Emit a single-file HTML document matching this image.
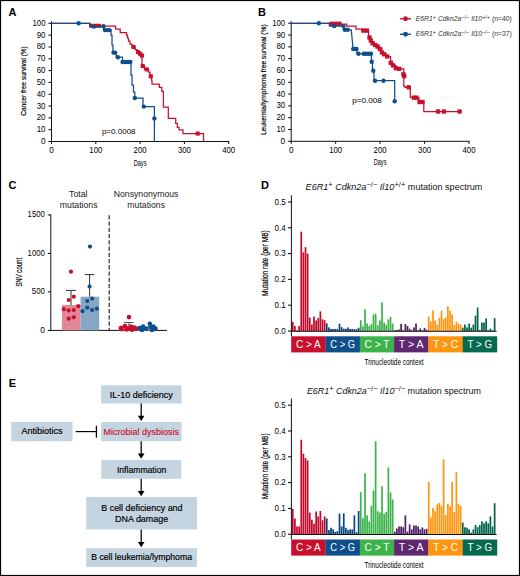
<!DOCTYPE html><html><head><meta charset="utf-8"><style>html,body{margin:0;padding:0;background:#fff;}body{width:520px;height:576px;overflow:hidden;}</style></head><body><svg width="520" height="576" viewBox="0 0 520 576" style="display:block;font-family:'Liberation Sans', sans-serif">
<rect x="0" y="0" width="520" height="576" fill="#fff"/>
<text x="8.4" y="15.5" font-size="11" text-anchor="start" fill="#000" font-weight="bold" font-style="normal" >A</text>
<text x="258.0" y="16.0" font-size="11" text-anchor="start" fill="#000" font-weight="bold" font-style="normal" >B</text>
<text x="8.5" y="188.9" font-size="11" text-anchor="start" fill="#000" font-weight="bold" font-style="normal" >C</text>
<text x="260.9" y="189.0" font-size="11" text-anchor="start" fill="#000" font-weight="bold" font-style="normal" >D</text>
<text x="8.8" y="387.0" font-size="11" text-anchor="start" fill="#000" font-weight="bold" font-style="normal" >E</text>
<line x1="51.5" y1="21.3" x2="51.5" y2="142.0" stroke="#111" stroke-width="1"/>
<line x1="51.0" y1="141.5" x2="229.2" y2="141.5" stroke="#111" stroke-width="1"/>
<line x1="48.5" y1="141.50" x2="51.5" y2="141.50" stroke="#000" stroke-width="1"/>
<text x="45.50" y="144.05" font-size="8.4" text-anchor="end" fill="#000" font-weight="normal" font-style="normal" textLength="4.6" lengthAdjust="spacingAndGlyphs" >0</text>
<line x1="48.5" y1="129.68" x2="51.5" y2="129.68" stroke="#000" stroke-width="1"/>
<text x="45.50" y="132.23" font-size="8.4" text-anchor="end" fill="#000" font-weight="normal" font-style="normal" textLength="8.8" lengthAdjust="spacingAndGlyphs" >10</text>
<line x1="48.5" y1="117.86" x2="51.5" y2="117.86" stroke="#000" stroke-width="1"/>
<text x="45.50" y="120.41" font-size="8.4" text-anchor="end" fill="#000" font-weight="normal" font-style="normal" textLength="8.8" lengthAdjust="spacingAndGlyphs" >20</text>
<line x1="48.5" y1="106.04" x2="51.5" y2="106.04" stroke="#000" stroke-width="1"/>
<text x="45.50" y="108.59" font-size="8.4" text-anchor="end" fill="#000" font-weight="normal" font-style="normal" textLength="8.8" lengthAdjust="spacingAndGlyphs" >30</text>
<line x1="48.5" y1="94.22" x2="51.5" y2="94.22" stroke="#000" stroke-width="1"/>
<text x="45.50" y="96.77" font-size="8.4" text-anchor="end" fill="#000" font-weight="normal" font-style="normal" textLength="8.8" lengthAdjust="spacingAndGlyphs" >40</text>
<line x1="48.5" y1="82.40" x2="51.5" y2="82.40" stroke="#000" stroke-width="1"/>
<text x="45.50" y="84.95" font-size="8.4" text-anchor="end" fill="#000" font-weight="normal" font-style="normal" textLength="8.8" lengthAdjust="spacingAndGlyphs" >50</text>
<line x1="48.5" y1="70.58" x2="51.5" y2="70.58" stroke="#000" stroke-width="1"/>
<text x="45.50" y="73.13" font-size="8.4" text-anchor="end" fill="#000" font-weight="normal" font-style="normal" textLength="8.8" lengthAdjust="spacingAndGlyphs" >60</text>
<line x1="48.5" y1="58.76" x2="51.5" y2="58.76" stroke="#000" stroke-width="1"/>
<text x="45.50" y="61.31" font-size="8.4" text-anchor="end" fill="#000" font-weight="normal" font-style="normal" textLength="8.8" lengthAdjust="spacingAndGlyphs" >70</text>
<line x1="48.5" y1="46.94" x2="51.5" y2="46.94" stroke="#000" stroke-width="1"/>
<text x="45.50" y="49.49" font-size="8.4" text-anchor="end" fill="#000" font-weight="normal" font-style="normal" textLength="8.8" lengthAdjust="spacingAndGlyphs" >80</text>
<line x1="48.5" y1="35.12" x2="51.5" y2="35.12" stroke="#000" stroke-width="1"/>
<text x="45.50" y="37.67" font-size="8.4" text-anchor="end" fill="#000" font-weight="normal" font-style="normal" textLength="8.8" lengthAdjust="spacingAndGlyphs" >90</text>
<line x1="48.5" y1="23.30" x2="51.5" y2="23.30" stroke="#000" stroke-width="1"/>
<text x="45.50" y="25.85" font-size="8.4" text-anchor="end" fill="#000" font-weight="normal" font-style="normal" textLength="13.0" lengthAdjust="spacingAndGlyphs" >100</text>
<line x1="51.50" y1="141.5" x2="51.50" y2="144.0" stroke="#000" stroke-width="1"/>
<text x="51.50" y="153.30" font-size="8.4" text-anchor="middle" fill="#000" font-weight="normal" font-style="normal" textLength="4.6" lengthAdjust="spacingAndGlyphs" >0</text>
<line x1="95.80" y1="141.5" x2="95.80" y2="144.0" stroke="#000" stroke-width="1"/>
<text x="95.80" y="153.30" font-size="8.4" text-anchor="middle" fill="#000" font-weight="normal" font-style="normal" textLength="13.0" lengthAdjust="spacingAndGlyphs" >100</text>
<line x1="140.10" y1="141.5" x2="140.10" y2="144.0" stroke="#000" stroke-width="1"/>
<text x="140.10" y="153.30" font-size="8.4" text-anchor="middle" fill="#000" font-weight="normal" font-style="normal" textLength="13.0" lengthAdjust="spacingAndGlyphs" >200</text>
<line x1="184.40" y1="141.5" x2="184.40" y2="144.0" stroke="#000" stroke-width="1"/>
<text x="184.40" y="153.30" font-size="8.4" text-anchor="middle" fill="#000" font-weight="normal" font-style="normal" textLength="13.0" lengthAdjust="spacingAndGlyphs" >300</text>
<line x1="228.70" y1="141.5" x2="228.70" y2="144.0" stroke="#000" stroke-width="1"/>
<text x="228.70" y="153.30" font-size="8.4" text-anchor="middle" fill="#000" font-weight="normal" font-style="normal" textLength="13.0" lengthAdjust="spacingAndGlyphs" >400</text>
<text x="140.10" y="165.50" font-size="8.2" text-anchor="middle" fill="#000" font-weight="normal" font-style="normal" textLength="12.8" lengthAdjust="spacingAndGlyphs" >Days</text>
<g transform="translate(26.4,81) rotate(-90)"><text x="0" y="0" font-size="7.6" text-anchor="middle" fill="#000" stroke="#000" stroke-width="0.18" textLength="69.5" lengthAdjust="spacingAndGlyphs">Cancer free survival (%)</text></g>
<line x1="291.2" y1="21.2" x2="291.2" y2="141.8" stroke="#111" stroke-width="1"/>
<line x1="290.7" y1="141.3" x2="469.5" y2="141.3" stroke="#111" stroke-width="1"/>
<line x1="288.2" y1="141.30" x2="291.2" y2="141.30" stroke="#000" stroke-width="1"/>
<text x="285.20" y="143.85" font-size="8.4" text-anchor="end" fill="#000" font-weight="normal" font-style="normal" textLength="4.6" lengthAdjust="spacingAndGlyphs" >0</text>
<line x1="288.2" y1="129.49" x2="291.2" y2="129.49" stroke="#000" stroke-width="1"/>
<text x="285.20" y="132.04" font-size="8.4" text-anchor="end" fill="#000" font-weight="normal" font-style="normal" textLength="8.8" lengthAdjust="spacingAndGlyphs" >10</text>
<line x1="288.2" y1="117.68" x2="291.2" y2="117.68" stroke="#000" stroke-width="1"/>
<text x="285.20" y="120.23" font-size="8.4" text-anchor="end" fill="#000" font-weight="normal" font-style="normal" textLength="8.8" lengthAdjust="spacingAndGlyphs" >20</text>
<line x1="288.2" y1="105.87" x2="291.2" y2="105.87" stroke="#000" stroke-width="1"/>
<text x="285.20" y="108.42" font-size="8.4" text-anchor="end" fill="#000" font-weight="normal" font-style="normal" textLength="8.8" lengthAdjust="spacingAndGlyphs" >30</text>
<line x1="288.2" y1="94.06" x2="291.2" y2="94.06" stroke="#000" stroke-width="1"/>
<text x="285.20" y="96.61" font-size="8.4" text-anchor="end" fill="#000" font-weight="normal" font-style="normal" textLength="8.8" lengthAdjust="spacingAndGlyphs" >40</text>
<line x1="288.2" y1="82.25" x2="291.2" y2="82.25" stroke="#000" stroke-width="1"/>
<text x="285.20" y="84.80" font-size="8.4" text-anchor="end" fill="#000" font-weight="normal" font-style="normal" textLength="8.8" lengthAdjust="spacingAndGlyphs" >50</text>
<line x1="288.2" y1="70.44" x2="291.2" y2="70.44" stroke="#000" stroke-width="1"/>
<text x="285.20" y="72.99" font-size="8.4" text-anchor="end" fill="#000" font-weight="normal" font-style="normal" textLength="8.8" lengthAdjust="spacingAndGlyphs" >60</text>
<line x1="288.2" y1="58.63" x2="291.2" y2="58.63" stroke="#000" stroke-width="1"/>
<text x="285.20" y="61.18" font-size="8.4" text-anchor="end" fill="#000" font-weight="normal" font-style="normal" textLength="8.8" lengthAdjust="spacingAndGlyphs" >70</text>
<line x1="288.2" y1="46.82" x2="291.2" y2="46.82" stroke="#000" stroke-width="1"/>
<text x="285.20" y="49.37" font-size="8.4" text-anchor="end" fill="#000" font-weight="normal" font-style="normal" textLength="8.8" lengthAdjust="spacingAndGlyphs" >80</text>
<line x1="288.2" y1="35.01" x2="291.2" y2="35.01" stroke="#000" stroke-width="1"/>
<text x="285.20" y="37.56" font-size="8.4" text-anchor="end" fill="#000" font-weight="normal" font-style="normal" textLength="8.8" lengthAdjust="spacingAndGlyphs" >90</text>
<line x1="288.2" y1="23.20" x2="291.2" y2="23.20" stroke="#000" stroke-width="1"/>
<text x="285.20" y="25.75" font-size="8.4" text-anchor="end" fill="#000" font-weight="normal" font-style="normal" textLength="13.0" lengthAdjust="spacingAndGlyphs" >100</text>
<line x1="291.20" y1="141.3" x2="291.20" y2="143.8" stroke="#000" stroke-width="1"/>
<text x="291.20" y="153.10" font-size="8.4" text-anchor="middle" fill="#000" font-weight="normal" font-style="normal" textLength="4.6" lengthAdjust="spacingAndGlyphs" >0</text>
<line x1="335.65" y1="141.3" x2="335.65" y2="143.8" stroke="#000" stroke-width="1"/>
<text x="335.65" y="153.10" font-size="8.4" text-anchor="middle" fill="#000" font-weight="normal" font-style="normal" textLength="13.0" lengthAdjust="spacingAndGlyphs" >100</text>
<line x1="380.10" y1="141.3" x2="380.10" y2="143.8" stroke="#000" stroke-width="1"/>
<text x="380.10" y="153.10" font-size="8.4" text-anchor="middle" fill="#000" font-weight="normal" font-style="normal" textLength="13.0" lengthAdjust="spacingAndGlyphs" >200</text>
<line x1="424.55" y1="141.3" x2="424.55" y2="143.8" stroke="#000" stroke-width="1"/>
<text x="424.55" y="153.10" font-size="8.4" text-anchor="middle" fill="#000" font-weight="normal" font-style="normal" textLength="13.0" lengthAdjust="spacingAndGlyphs" >300</text>
<line x1="469.00" y1="141.3" x2="469.00" y2="143.8" stroke="#000" stroke-width="1"/>
<text x="469.00" y="153.10" font-size="8.4" text-anchor="middle" fill="#000" font-weight="normal" font-style="normal" textLength="13.0" lengthAdjust="spacingAndGlyphs" >400</text>
<text x="380.10" y="165.30" font-size="8.2" text-anchor="middle" fill="#000" font-weight="normal" font-style="normal" textLength="12.8" lengthAdjust="spacingAndGlyphs" >Days</text>
<g transform="translate(266.0,79.7) rotate(-90)"><text x="0" y="0" font-size="7.6" text-anchor="middle" fill="#000" stroke="#000" stroke-width="0.18" textLength="110.6" lengthAdjust="spacingAndGlyphs">Leukemia/lymphoma free survival (%)</text></g>
<path d="M 51.5 23.3 H 89.8 V 26 H 115.6 V 29 H 120.2 V 32.5 H 126.5 V 35 H 127.5 V 38 H 128.5 V 41 H 130 V 44 H 132 V 46.9 H 135 V 49.5 H 137 V 52.1 H 140 V 55.6 H 142 V 66 H 144.5 V 69.4 H 148.5 V 72 H 150 V 76.3 H 151.5 V 80 H 152 V 84 H 159.3 V 87.4 H 161.8 V 91.4 H 163.4 V 107 H 168.3 V 118.4 H 175.7 V 123.3 H 177.3 V 127.4 H 179 V 129.9 H 183 V 133.6 H 203.5 V 141.5" fill="none" stroke="#c8102e" stroke-width="1.25" stroke-linejoin="miter"/>
<rect x="89.45" y="23.75" width="4.1" height="4.1" fill="#c8102e"/>
<rect x="93.45" y="23.75" width="4.1" height="4.1" fill="#c8102e"/>
<rect x="96.95" y="23.75" width="4.1" height="4.1" fill="#c8102e"/>
<rect x="131.45" y="44.85" width="4.1" height="4.1" fill="#c8102e"/>
<rect x="135.95" y="50.05" width="4.1" height="4.1" fill="#c8102e"/>
<rect x="138.15" y="51.75" width="4.1" height="4.1" fill="#c8102e"/>
<rect x="139.95" y="53.55" width="4.1" height="4.1" fill="#c8102e"/>
<rect x="140.65" y="63.95" width="4.1" height="4.1" fill="#c8102e"/>
<rect x="144.65" y="67.35" width="4.1" height="4.1" fill="#c8102e"/>
<rect x="148.75" y="74.25" width="4.1" height="4.1" fill="#c8102e"/>
<rect x="195.65" y="131.55" width="4.1" height="4.1" fill="#c8102e"/>
<path d="M 51.5 23.3 H 89.8 V 26.6 H 103.5 V 30.1 H 111 V 35 H 112 V 45 H 113 V 52.6 H 116.2 V 57.2 H 122.5 V 62 H 131 V 75 H 132 V 85 H 133.5 V 92 H 134.8 V 98 H 143 V 106.6 H 154.4 V 141.5" fill="none" stroke="#0f4f8c" stroke-width="1.25" stroke-linejoin="miter"/>
<circle cx="78.65" cy="23.3" r="2.2" fill="#0f4f8c"/>
<circle cx="94" cy="26.6" r="2.2" fill="#0f4f8c"/>
<circle cx="103.5" cy="26.3" r="2.2" fill="#0f4f8c"/>
<circle cx="105" cy="30.1" r="2.2" fill="#0f4f8c"/>
<circle cx="107.5" cy="30.1" r="2.2" fill="#0f4f8c"/>
<circle cx="109.5" cy="30.1" r="2.2" fill="#0f4f8c"/>
<circle cx="113.5" cy="52.6" r="2.2" fill="#0f4f8c"/>
<circle cx="115.2" cy="52.6" r="2.2" fill="#0f4f8c"/>
<circle cx="117.9" cy="57.2" r="2.2" fill="#0f4f8c"/>
<circle cx="122.5" cy="62" r="2.2" fill="#0f4f8c"/>
<circle cx="124.5" cy="62" r="2.2" fill="#0f4f8c"/>
<circle cx="126.5" cy="62" r="2.2" fill="#0f4f8c"/>
<circle cx="128.5" cy="62" r="2.2" fill="#0f4f8c"/>
<circle cx="130.3" cy="62" r="2.2" fill="#0f4f8c"/>
<circle cx="134.8" cy="98" r="2.2" fill="#0f4f8c"/>
<circle cx="143.8" cy="106.6" r="2.2" fill="#0f4f8c"/>
<circle cx="154.4" cy="118.4" r="2.2" fill="#0f4f8c"/>
<text x="101.9" y="134.2" font-size="7.4" text-anchor="start" fill="#000" font-weight="normal" font-style="normal" textLength="33.7" lengthAdjust="spacingAndGlyphs" >p=0.0008</text>
<path d="M 291.2 23.25 H 329.4 V 23.8 H 341 V 24.2 H 346.7 V 26.1 H 356 V 29.2 H 362 V 30.6 H 368.6 V 36.5 H 369.8 V 38.3 H 371 V 41.7 H 373.3 V 44 H 376.7 V 45.8 H 379 V 48.1 H 381.9 V 52.7 H 383.1 V 54.4 H 386.5 V 56.7 H 390.6 V 63.1 H 392.9 V 65.4 H 395.8 V 68.3 H 399.2 V 68.8 H 403.8 V 86.4 H 405 V 87.3 H 410.3 V 96.8 H 411 V 97.7 H 419 V 102 H 423.8 V 111.5 H 461.3" fill="none" stroke="#c8102e" stroke-width="1.25" stroke-linejoin="miter"/>
<rect x="329.35" y="21.65" width="4.3" height="4.3" fill="#c8102e"/>
<rect x="333.35" y="21.65" width="4.3" height="4.3" fill="#c8102e"/>
<rect x="337.35" y="21.65" width="4.3" height="4.3" fill="#c8102e"/>
<rect x="361.25" y="28.45" width="4.3" height="4.3" fill="#c8102e"/>
<rect x="364.65" y="28.45" width="4.3" height="4.3" fill="#c8102e"/>
<rect x="367.35" y="35.35" width="4.3" height="4.3" fill="#c8102e"/>
<rect x="368.65" y="38.35" width="4.3" height="4.3" fill="#c8102e"/>
<rect x="370.45" y="41.15" width="4.3" height="4.3" fill="#c8102e"/>
<rect x="373.05" y="42.85" width="4.3" height="4.3" fill="#c8102e"/>
<rect x="375.35" y="44.45" width="4.3" height="4.3" fill="#c8102e"/>
<rect x="377.65" y="46.85" width="4.3" height="4.3" fill="#c8102e"/>
<rect x="379.85" y="50.35" width="4.3" height="4.3" fill="#c8102e"/>
<rect x="382.05" y="52.15" width="4.3" height="4.3" fill="#c8102e"/>
<rect x="385.05" y="54.35" width="4.3" height="4.3" fill="#c8102e"/>
<rect x="388.65" y="60.65" width="4.3" height="4.3" fill="#c8102e"/>
<rect x="390.85" y="63.25" width="4.3" height="4.3" fill="#c8102e"/>
<rect x="393.65" y="66.05" width="4.3" height="4.3" fill="#c8102e"/>
<rect x="397.05" y="66.65" width="4.3" height="4.3" fill="#c8102e"/>
<rect x="401.25" y="72.15" width="4.3" height="4.3" fill="#c8102e"/>
<rect x="402.05" y="74.05" width="4.3" height="4.3" fill="#c8102e"/>
<rect x="406.45" y="85.15" width="4.3" height="4.3" fill="#c8102e"/>
<rect x="411.85" y="95.55" width="4.3" height="4.3" fill="#c8102e"/>
<rect x="414.15" y="95.55" width="4.3" height="4.3" fill="#c8102e"/>
<rect x="417.35" y="99.85" width="4.3" height="4.3" fill="#c8102e"/>
<rect x="420.35" y="99.85" width="4.3" height="4.3" fill="#c8102e"/>
<rect x="435.85" y="109.35" width="4.3" height="4.3" fill="#c8102e"/>
<rect x="441.85" y="109.35" width="4.3" height="4.3" fill="#c8102e"/>
<rect x="457.45" y="109.35" width="4.3" height="4.3" fill="#c8102e"/>
<path d="M 291.2 23.25 H 329.4 V 26.1 H 343.4 V 29.8 H 351.25 L 353 48 V 49 H 357 V 53.8 H 371.4 V 61.7 H 372.5 V 70.8 H 374 V 80.7 H 394.7 V 101.2" fill="none" stroke="#0f4f8c" stroke-width="1.25" stroke-linejoin="miter"/>
<circle cx="318.8" cy="23.25" r="2.2" fill="#0f4f8c"/>
<circle cx="334.2" cy="26.1" r="2.2" fill="#0f4f8c"/>
<circle cx="343.4" cy="26.1" r="2.2" fill="#0f4f8c"/>
<circle cx="344.8" cy="29.8" r="2.2" fill="#0f4f8c"/>
<circle cx="347.7" cy="29.8" r="2.2" fill="#0f4f8c"/>
<circle cx="353.2" cy="49" r="2.2" fill="#0f4f8c"/>
<circle cx="355" cy="49" r="2.2" fill="#0f4f8c"/>
<circle cx="356.5" cy="49" r="2.2" fill="#0f4f8c"/>
<circle cx="358.5" cy="53.8" r="2.2" fill="#0f4f8c"/>
<circle cx="363.75" cy="53.8" r="2.2" fill="#0f4f8c"/>
<circle cx="366" cy="53.8" r="2.2" fill="#0f4f8c"/>
<circle cx="368.5" cy="53.8" r="2.2" fill="#0f4f8c"/>
<circle cx="371" cy="53.8" r="2.2" fill="#0f4f8c"/>
<circle cx="371.7" cy="61.7" r="2.2" fill="#0f4f8c"/>
<circle cx="373.3" cy="70.8" r="2.2" fill="#0f4f8c"/>
<circle cx="375" cy="80.7" r="2.2" fill="#0f4f8c"/>
<circle cx="383.5" cy="80.7" r="2.2" fill="#0f4f8c"/>
<circle cx="394.7" cy="101.2" r="2.2" fill="#0f4f8c"/>
<text x="352.2" y="102.6" font-size="7.4" text-anchor="start" fill="#000" font-weight="normal" font-style="normal" textLength="29.6" lengthAdjust="spacingAndGlyphs" >p=0.008</text>
<line x1="400" y1="18.75" x2="411" y2="18.75" stroke="#c8102e" stroke-width="1.4"/>
<circle cx="405.5" cy="18.75" r="2.4" fill="#c8102e"/>
<text x="415.8" y="20.95" font-size="7.4" fill="#333" textLength="96" lengthAdjust="spacingAndGlyphs"><tspan font-style="italic">E6R1</tspan><tspan font-size="6" dy="-2.4">+</tspan><tspan dy="2.4"> </tspan><tspan font-style="italic">Cdkn2a</tspan><tspan font-size="6" dy="-2.4">&#8722;/&#8722;</tspan><tspan dy="2.4"> </tspan><tspan font-style="italic">Il10</tspan><tspan font-size="6" dy="-2.4">+/+</tspan><tspan dy="2.4"> (n=40)</tspan></text>
<line x1="400" y1="34.25" x2="411" y2="34.25" stroke="#0f4f8c" stroke-width="1.4"/>
<circle cx="405.5" cy="34.25" r="2.4" fill="#0f4f8c"/>
<text x="415.8" y="36.45" font-size="7.4" fill="#333" textLength="96" lengthAdjust="spacingAndGlyphs"><tspan font-style="italic">E6R1</tspan><tspan font-size="6" dy="-2.4">+</tspan><tspan dy="2.4"> </tspan><tspan font-style="italic">Cdkn2a</tspan><tspan font-size="6" dy="-2.4">&#8722;/&#8722;</tspan><tspan dy="2.4"> </tspan><tspan font-style="italic">Il10</tspan><tspan font-size="6" dy="-2.4">&#8722;/&#8722;</tspan><tspan dy="2.4"> (n=37)</tspan></text>
<line x1="50.8" y1="214.6" x2="50.8" y2="330.9" stroke="#111" stroke-width="1"/>
<line x1="50.3" y1="330.4" x2="167" y2="330.4" stroke="#111" stroke-width="1"/>
<line x1="47.8" y1="330.40" x2="50.8" y2="330.40" stroke="#000" stroke-width="1"/>
<text x="44.80" y="332.95" font-size="8.4" text-anchor="end" fill="#000" font-weight="normal" font-style="normal" textLength="4.6" lengthAdjust="spacingAndGlyphs" >0</text>
<line x1="47.8" y1="291.90" x2="50.8" y2="291.90" stroke="#000" stroke-width="1"/>
<text x="44.80" y="294.45" font-size="8.4" text-anchor="end" fill="#000" font-weight="normal" font-style="normal" textLength="13.0" lengthAdjust="spacingAndGlyphs" >500</text>
<line x1="47.8" y1="253.40" x2="50.8" y2="253.40" stroke="#000" stroke-width="1"/>
<text x="44.80" y="255.95" font-size="8.4" text-anchor="end" fill="#000" font-weight="normal" font-style="normal" textLength="17.2" lengthAdjust="spacingAndGlyphs" >1000</text>
<line x1="47.8" y1="214.90" x2="50.8" y2="214.90" stroke="#000" stroke-width="1"/>
<text x="44.80" y="217.45" font-size="8.4" text-anchor="end" fill="#000" font-weight="normal" font-style="normal" textLength="17.2" lengthAdjust="spacingAndGlyphs" >1500</text>
<g transform="translate(21.6,272.3) rotate(-90)"><text x="0" y="0" font-size="9.0" text-anchor="middle" fill="#000" stroke="#000" stroke-width="0.18" textLength="28.9" lengthAdjust="spacingAndGlyphs">SNV count</text></g>
<text x="78.3" y="196.9" font-size="8.7" text-anchor="middle" fill="#222" font-weight="normal" font-style="normal" >Total</text>
<text x="78.7" y="208.0" font-size="8.7" text-anchor="middle" fill="#222" font-weight="normal" font-style="normal" >mutations</text>
<text x="146.1" y="196.9" font-size="8.7" text-anchor="middle" fill="#222" font-weight="normal" font-style="normal" >Nonsynonymous</text>
<text x="146.2" y="208.0" font-size="8.7" text-anchor="middle" fill="#222" font-weight="normal" font-style="normal" >mutations</text>
<line x1="109.2" y1="215.2" x2="109.2" y2="330" stroke="#222" stroke-width="1.15" stroke-dasharray="4.2,2.05"/>
<rect x="61.9" y="305" width="18.7" height="25.40" fill="#e28796"/>
<rect x="80.6" y="296.7" width="18.6" height="33.70" fill="#87a8c4"/>
<rect x="118.5" y="326" width="18" height="4.4" fill="#e28796"/>
<rect x="136.5" y="326.5" width="18" height="3.9" fill="#87a8c4"/>
<path d="M71 305 V290.4 M66 290.4 H76" stroke="#333" stroke-width="1" fill="none"/>
<path d="M89.6 296.7 V274.6 M84.8 274.6 H94.4" stroke="#333" stroke-width="1" fill="none"/>
<path d="M128.9 326 V322.5 M124 322.5 H133.5" stroke="#555" stroke-width="1" fill="none"/>
<circle cx="71" cy="271.7" r="2.1" fill="#c8102e"/>
<circle cx="73.8" cy="296.7" r="2.1" fill="#c8102e"/>
<circle cx="68.7" cy="300" r="2.1" fill="#c8102e"/>
<circle cx="78.3" cy="306.2" r="2.1" fill="#c8102e"/>
<circle cx="63.8" cy="309.2" r="2.1" fill="#c8102e"/>
<circle cx="68.7" cy="310.4" r="2.1" fill="#c8102e"/>
<circle cx="73.8" cy="310" r="2.1" fill="#c8102e"/>
<circle cx="68.7" cy="318.7" r="2.1" fill="#c8102e"/>
<circle cx="73.8" cy="317.3" r="2.1" fill="#c8102e"/>
<circle cx="90" cy="246.6" r="2.1" fill="#0f4f8c"/>
<circle cx="89.6" cy="286.5" r="2.1" fill="#0f4f8c"/>
<circle cx="87.3" cy="301" r="2.1" fill="#0f4f8c"/>
<circle cx="92.1" cy="298.5" r="2.1" fill="#0f4f8c"/>
<circle cx="87.3" cy="307.7" r="2.1" fill="#0f4f8c"/>
<circle cx="82.5" cy="311.2" r="2.1" fill="#0f4f8c"/>
<circle cx="92.1" cy="310" r="2.1" fill="#0f4f8c"/>
<circle cx="96.9" cy="308.7" r="2.1" fill="#0f4f8c"/>
<circle cx="129" cy="317.1" r="2.3" fill="#c8102e"/>
<circle cx="121.5" cy="327.8" r="2.3" fill="#c8102e"/>
<circle cx="125" cy="326" r="2.3" fill="#c8102e"/>
<circle cx="128" cy="328.5" r="2.3" fill="#c8102e"/>
<circle cx="131" cy="326.5" r="2.3" fill="#c8102e"/>
<circle cx="134.5" cy="327.5" r="2.3" fill="#c8102e"/>
<circle cx="126.5" cy="329.5" r="2.3" fill="#c8102e"/>
<circle cx="132" cy="329.8" r="2.3" fill="#c8102e"/>
<circle cx="121.2" cy="329.2" r="2.3" fill="#c8102e"/>
<circle cx="135.5" cy="329" r="2.3" fill="#c8102e"/>
<circle cx="139.5" cy="328" r="2.3" fill="#0f4f8c"/>
<circle cx="143" cy="326.5" r="2.3" fill="#0f4f8c"/>
<circle cx="146" cy="328.5" r="2.3" fill="#0f4f8c"/>
<circle cx="149.8" cy="323.8" r="2.3" fill="#0f4f8c"/>
<circle cx="150.5" cy="327" r="2.3" fill="#0f4f8c"/>
<circle cx="153.5" cy="326.5" r="2.3" fill="#0f4f8c"/>
<circle cx="155.5" cy="328.5" r="2.3" fill="#0f4f8c"/>
<circle cx="142" cy="330" r="2.3" fill="#0f4f8c"/>
<circle cx="152" cy="330" r="2.3" fill="#0f4f8c"/>
<rect x="291.900" y="321.97" width="1.725" height="9.03" fill="#c00a2c"/>
<rect x="294.025" y="326.10" width="1.725" height="4.90" fill="#c00a2c"/>
<rect x="296.150" y="330.23" width="1.725" height="0.77" fill="#c00a2c"/>
<rect x="298.275" y="326.10" width="1.725" height="4.90" fill="#c00a2c"/>
<rect x="300.400" y="231.67" width="1.725" height="99.33" fill="#c00a2c"/>
<rect x="302.525" y="252.31" width="1.725" height="78.69" fill="#c00a2c"/>
<rect x="304.650" y="247.15" width="1.725" height="83.85" fill="#c00a2c"/>
<rect x="306.775" y="253.60" width="1.725" height="77.40" fill="#c00a2c"/>
<rect x="308.900" y="317.58" width="1.725" height="13.42" fill="#c00a2c"/>
<rect x="311.025" y="324.55" width="1.725" height="6.45" fill="#c00a2c"/>
<rect x="313.150" y="316.55" width="1.725" height="14.45" fill="#c00a2c"/>
<rect x="315.275" y="320.42" width="1.725" height="10.58" fill="#c00a2c"/>
<rect x="317.400" y="318.10" width="1.725" height="12.90" fill="#c00a2c"/>
<rect x="319.525" y="311.39" width="1.725" height="19.61" fill="#c00a2c"/>
<rect x="321.650" y="319.39" width="1.725" height="11.61" fill="#c00a2c"/>
<rect x="323.775" y="320.16" width="1.725" height="10.84" fill="#c00a2c"/>
<rect x="325.900" y="323.26" width="1.725" height="7.74" fill="#0a4884"/>
<rect x="328.025" y="327.39" width="1.725" height="3.61" fill="#0a4884"/>
<rect x="330.150" y="328.94" width="1.725" height="2.06" fill="#0a4884"/>
<rect x="332.275" y="328.94" width="1.725" height="2.06" fill="#0a4884"/>
<rect x="334.400" y="328.94" width="1.725" height="2.06" fill="#0a4884"/>
<rect x="336.525" y="328.94" width="1.725" height="2.06" fill="#0a4884"/>
<rect x="338.650" y="323.65" width="1.725" height="7.35" fill="#0a4884"/>
<rect x="340.775" y="327.13" width="1.725" height="3.87" fill="#0a4884"/>
<rect x="342.900" y="328.68" width="1.725" height="2.32" fill="#0a4884"/>
<rect x="345.025" y="328.76" width="1.725" height="2.24" fill="#0a4884"/>
<rect x="347.150" y="327.49" width="1.725" height="3.51" fill="#0a4884"/>
<rect x="349.275" y="328.94" width="1.725" height="2.06" fill="#0a4884"/>
<rect x="351.400" y="328.94" width="1.725" height="2.06" fill="#0a4884"/>
<rect x="353.525" y="329.19" width="1.725" height="1.81" fill="#0a4884"/>
<rect x="355.650" y="329.19" width="1.725" height="1.81" fill="#0a4884"/>
<rect x="357.775" y="327.70" width="1.725" height="3.30" fill="#0a4884"/>
<rect x="359.900" y="320.16" width="1.725" height="10.84" fill="#3cb44a"/>
<rect x="362.025" y="326.36" width="1.725" height="4.64" fill="#3cb44a"/>
<rect x="364.150" y="309.33" width="1.725" height="21.67" fill="#3cb44a"/>
<rect x="366.275" y="323.52" width="1.725" height="7.48" fill="#3cb44a"/>
<rect x="368.400" y="326.10" width="1.725" height="4.90" fill="#3cb44a"/>
<rect x="370.525" y="324.03" width="1.725" height="6.97" fill="#3cb44a"/>
<rect x="372.650" y="314.49" width="1.725" height="16.51" fill="#3cb44a"/>
<rect x="374.775" y="313.71" width="1.725" height="17.29" fill="#3cb44a"/>
<rect x="376.900" y="325.32" width="1.725" height="5.68" fill="#3cb44a"/>
<rect x="379.025" y="320.42" width="1.725" height="10.58" fill="#3cb44a"/>
<rect x="381.150" y="302.36" width="1.725" height="28.64" fill="#3cb44a"/>
<rect x="383.275" y="322.74" width="1.725" height="8.26" fill="#3cb44a"/>
<rect x="385.400" y="324.81" width="1.725" height="6.19" fill="#3cb44a"/>
<rect x="387.525" y="319.39" width="1.725" height="11.61" fill="#3cb44a"/>
<rect x="389.650" y="317.07" width="1.725" height="13.93" fill="#3cb44a"/>
<rect x="391.775" y="323.52" width="1.725" height="7.48" fill="#3cb44a"/>
<rect x="393.900" y="330.23" width="1.725" height="0.77" fill="#52206a"/>
<rect x="396.025" y="329.97" width="1.725" height="1.03" fill="#52206a"/>
<rect x="398.150" y="329.45" width="1.725" height="1.55" fill="#52206a"/>
<rect x="400.275" y="323.78" width="1.725" height="7.22" fill="#52206a"/>
<rect x="402.400" y="330.23" width="1.725" height="0.77" fill="#52206a"/>
<rect x="404.525" y="324.03" width="1.725" height="6.97" fill="#52206a"/>
<rect x="406.650" y="326.10" width="1.725" height="4.90" fill="#52206a"/>
<rect x="408.775" y="328.68" width="1.725" height="2.32" fill="#52206a"/>
<rect x="410.900" y="330.23" width="1.725" height="0.77" fill="#52206a"/>
<rect x="413.025" y="327.39" width="1.725" height="3.61" fill="#52206a"/>
<rect x="415.150" y="323.52" width="1.725" height="7.48" fill="#52206a"/>
<rect x="417.275" y="330.23" width="1.725" height="0.77" fill="#52206a"/>
<rect x="419.400" y="328.42" width="1.725" height="2.58" fill="#52206a"/>
<rect x="421.525" y="330.23" width="1.725" height="0.77" fill="#52206a"/>
<rect x="423.650" y="327.90" width="1.725" height="3.10" fill="#52206a"/>
<rect x="425.775" y="329.71" width="1.725" height="1.29" fill="#52206a"/>
<rect x="427.900" y="316.55" width="1.725" height="14.45" fill="#ff9510"/>
<rect x="430.025" y="321.45" width="1.725" height="9.55" fill="#ff9510"/>
<rect x="432.150" y="310.36" width="1.725" height="20.64" fill="#ff9510"/>
<rect x="434.275" y="320.42" width="1.725" height="10.58" fill="#ff9510"/>
<rect x="436.400" y="324.55" width="1.725" height="6.45" fill="#ff9510"/>
<rect x="438.525" y="317.84" width="1.725" height="13.16" fill="#ff9510"/>
<rect x="440.650" y="310.62" width="1.725" height="20.38" fill="#ff9510"/>
<rect x="442.775" y="318.87" width="1.725" height="12.13" fill="#ff9510"/>
<rect x="444.900" y="317.33" width="1.725" height="13.67" fill="#ff9510"/>
<rect x="447.025" y="306.23" width="1.725" height="24.77" fill="#ff9510"/>
<rect x="449.150" y="310.62" width="1.725" height="20.38" fill="#ff9510"/>
<rect x="451.275" y="314.49" width="1.725" height="16.51" fill="#ff9510"/>
<rect x="453.400" y="325.07" width="1.725" height="5.93" fill="#ff9510"/>
<rect x="455.525" y="321.71" width="1.725" height="9.29" fill="#ff9510"/>
<rect x="457.650" y="323.52" width="1.725" height="7.48" fill="#ff9510"/>
<rect x="459.775" y="324.55" width="1.725" height="6.45" fill="#ff9510"/>
<rect x="461.900" y="327.65" width="1.725" height="3.35" fill="#03664a"/>
<rect x="464.025" y="324.55" width="1.725" height="6.45" fill="#03664a"/>
<rect x="466.150" y="327.39" width="1.725" height="3.61" fill="#03664a"/>
<rect x="468.275" y="323.52" width="1.725" height="7.48" fill="#03664a"/>
<rect x="470.400" y="327.65" width="1.725" height="3.35" fill="#03664a"/>
<rect x="472.525" y="324.55" width="1.725" height="6.45" fill="#03664a"/>
<rect x="474.650" y="315.52" width="1.725" height="15.48" fill="#03664a"/>
<rect x="476.775" y="307.52" width="1.725" height="23.48" fill="#03664a"/>
<rect x="478.900" y="329.97" width="1.725" height="1.03" fill="#03664a"/>
<rect x="481.025" y="322.49" width="1.725" height="8.51" fill="#03664a"/>
<rect x="483.150" y="322.49" width="1.725" height="8.51" fill="#03664a"/>
<rect x="485.275" y="318.36" width="1.725" height="12.64" fill="#03664a"/>
<rect x="487.400" y="330.23" width="1.725" height="0.77" fill="#03664a"/>
<rect x="489.525" y="328.68" width="1.725" height="2.32" fill="#03664a"/>
<rect x="491.650" y="330.23" width="1.725" height="0.77" fill="#03664a"/>
<rect x="493.775" y="318.10" width="1.725" height="12.90" fill="#03664a"/>
<line x1="291.4" y1="195.3" x2="291.4" y2="336.2" stroke="#111" stroke-width="1"/>
<line x1="290.9" y1="331.3" x2="496.6" y2="331.3" stroke="#111" stroke-width="1"/>
<line x1="288.0" y1="331.00" x2="291.4" y2="331.00" stroke="#000" stroke-width="1"/>
<text x="285.60" y="333.70" font-size="8.4" text-anchor="end" fill="#000" font-weight="normal" font-style="normal" textLength="11.1" lengthAdjust="spacingAndGlyphs" >0.0</text>
<line x1="288.0" y1="305.20" x2="291.4" y2="305.20" stroke="#000" stroke-width="1"/>
<text x="285.60" y="307.90" font-size="8.4" text-anchor="end" fill="#000" font-weight="normal" font-style="normal" textLength="11.1" lengthAdjust="spacingAndGlyphs" >0.1</text>
<line x1="288.0" y1="279.40" x2="291.4" y2="279.40" stroke="#000" stroke-width="1"/>
<text x="285.60" y="282.10" font-size="8.4" text-anchor="end" fill="#000" font-weight="normal" font-style="normal" textLength="11.1" lengthAdjust="spacingAndGlyphs" >0.2</text>
<line x1="288.0" y1="253.60" x2="291.4" y2="253.60" stroke="#000" stroke-width="1"/>
<text x="285.60" y="256.30" font-size="8.4" text-anchor="end" fill="#000" font-weight="normal" font-style="normal" textLength="11.1" lengthAdjust="spacingAndGlyphs" >0.3</text>
<line x1="288.0" y1="227.80" x2="291.4" y2="227.80" stroke="#000" stroke-width="1"/>
<text x="285.60" y="230.50" font-size="8.4" text-anchor="end" fill="#000" font-weight="normal" font-style="normal" textLength="11.1" lengthAdjust="spacingAndGlyphs" >0.4</text>
<line x1="288.0" y1="202.00" x2="291.4" y2="202.00" stroke="#000" stroke-width="1"/>
<text x="285.60" y="204.70" font-size="8.4" text-anchor="end" fill="#000" font-weight="normal" font-style="normal" textLength="11.1" lengthAdjust="spacingAndGlyphs" >0.5</text>
<g transform="translate(268.4,263.1) rotate(-90)"><text x="0" y="0" font-size="8.4" text-anchor="middle" fill="#000" stroke="#000" stroke-width="0.18" textLength="65.8" lengthAdjust="spacingAndGlyphs">Mutation rate (per MB)</text></g>
<rect x="291.20" y="336.30" width="34.50" height="16.1" fill="#c8102e"/>
<text x="308.35" y="347.50" font-size="10.2" text-anchor="middle" fill="#fff" font-weight="normal" font-style="normal" textLength="24.8" lengthAdjust="spacingAndGlyphs" >C &gt; A</text>
<rect x="325.50" y="336.30" width="34.50" height="16.1" fill="#0f4f8c"/>
<text x="342.65" y="347.50" font-size="10.2" text-anchor="middle" fill="#fff" font-weight="normal" font-style="normal" textLength="24.8" lengthAdjust="spacingAndGlyphs" >C &gt; G</text>
<rect x="359.80" y="336.30" width="34.50" height="16.1" fill="#3cb44a"/>
<text x="376.95" y="347.50" font-size="10.2" text-anchor="middle" fill="#fff" font-weight="normal" font-style="normal" textLength="24.8" lengthAdjust="spacingAndGlyphs" >C &gt; T</text>
<rect x="394.10" y="336.30" width="34.50" height="16.1" fill="#5e2770"/>
<text x="411.25" y="347.50" font-size="10.2" text-anchor="middle" fill="#fff" font-weight="normal" font-style="normal" textLength="24.8" lengthAdjust="spacingAndGlyphs" >T &gt; A</text>
<rect x="428.40" y="336.30" width="34.50" height="16.1" fill="#ff9510"/>
<text x="445.55" y="347.50" font-size="10.2" text-anchor="middle" fill="#fff" font-weight="normal" font-style="normal" textLength="24.8" lengthAdjust="spacingAndGlyphs" >T &gt; C</text>
<rect x="462.70" y="336.30" width="34.50" height="16.1" fill="#056a4e"/>
<text x="479.85" y="347.50" font-size="10.2" text-anchor="middle" fill="#fff" font-weight="normal" font-style="normal" textLength="24.8" lengthAdjust="spacingAndGlyphs" >T &gt; G</text>
<text x="394.0" y="364.7" font-size="8.2" text-anchor="middle" fill="#000" font-weight="normal" font-style="normal" textLength="58.9" lengthAdjust="spacingAndGlyphs" >Trinucleotide context</text>
<text x="305.6" y="190.00" font-size="8.4" fill="#111" textLength="176.7" lengthAdjust="spacingAndGlyphs"><tspan font-style="italic">E6R1</tspan><tspan font-size="7" dy="-2.6">+</tspan><tspan dy="2.6"> </tspan><tspan font-style="italic">Cdkn2a</tspan><tspan font-size="7" dy="-2.6">&#8722;/&#8722;</tspan><tspan dy="2.6"> </tspan><tspan font-style="italic">Il10</tspan><tspan font-size="7" dy="-2.6">+/+</tspan><tspan dy="2.6"> mutation spectrum</tspan></text>
<rect x="291.900" y="508.92" width="1.725" height="25.28" fill="#c00a2c"/>
<rect x="294.025" y="518.46" width="1.725" height="15.74" fill="#c00a2c"/>
<rect x="296.150" y="526.46" width="1.725" height="7.74" fill="#c00a2c"/>
<rect x="298.275" y="526.46" width="1.725" height="7.74" fill="#c00a2c"/>
<rect x="300.400" y="439.77" width="1.725" height="94.43" fill="#c00a2c"/>
<rect x="302.525" y="453.70" width="1.725" height="80.50" fill="#c00a2c"/>
<rect x="304.650" y="458.09" width="1.725" height="76.11" fill="#c00a2c"/>
<rect x="306.775" y="460.41" width="1.725" height="73.79" fill="#c00a2c"/>
<rect x="308.900" y="512.53" width="1.725" height="21.67" fill="#c00a2c"/>
<rect x="311.025" y="519.75" width="1.725" height="14.45" fill="#c00a2c"/>
<rect x="313.150" y="523.62" width="1.725" height="10.58" fill="#c00a2c"/>
<rect x="315.275" y="511.50" width="1.725" height="22.70" fill="#c00a2c"/>
<rect x="317.400" y="516.40" width="1.725" height="17.80" fill="#c00a2c"/>
<rect x="319.525" y="510.98" width="1.725" height="23.22" fill="#c00a2c"/>
<rect x="321.650" y="520.27" width="1.725" height="13.93" fill="#c00a2c"/>
<rect x="323.775" y="516.40" width="1.725" height="17.80" fill="#c00a2c"/>
<rect x="325.900" y="518.46" width="1.725" height="15.74" fill="#0a4884"/>
<rect x="328.025" y="530.07" width="1.725" height="4.13" fill="#0a4884"/>
<rect x="330.150" y="527.75" width="1.725" height="6.45" fill="#0a4884"/>
<rect x="332.275" y="529.30" width="1.725" height="4.90" fill="#0a4884"/>
<rect x="334.400" y="531.88" width="1.725" height="2.32" fill="#0a4884"/>
<rect x="336.525" y="531.10" width="1.725" height="3.10" fill="#0a4884"/>
<rect x="338.650" y="513.56" width="1.725" height="20.64" fill="#0a4884"/>
<rect x="340.775" y="526.46" width="1.725" height="7.74" fill="#0a4884"/>
<rect x="342.900" y="513.30" width="1.725" height="20.90" fill="#0a4884"/>
<rect x="345.025" y="527.75" width="1.725" height="6.45" fill="#0a4884"/>
<rect x="347.150" y="530.07" width="1.725" height="4.13" fill="#0a4884"/>
<rect x="349.275" y="529.30" width="1.725" height="4.90" fill="#0a4884"/>
<rect x="351.400" y="529.30" width="1.725" height="4.90" fill="#0a4884"/>
<rect x="353.525" y="515.37" width="1.725" height="18.83" fill="#0a4884"/>
<rect x="355.650" y="532.14" width="1.725" height="2.06" fill="#0a4884"/>
<rect x="357.775" y="510.98" width="1.725" height="23.22" fill="#0a4884"/>
<rect x="359.900" y="492.15" width="1.725" height="42.05" fill="#3cb44a"/>
<rect x="362.025" y="518.20" width="1.725" height="16.00" fill="#3cb44a"/>
<rect x="364.150" y="473.31" width="1.725" height="60.89" fill="#3cb44a"/>
<rect x="366.275" y="515.37" width="1.725" height="18.83" fill="#3cb44a"/>
<rect x="368.400" y="521.56" width="1.725" height="12.64" fill="#3cb44a"/>
<rect x="370.525" y="505.82" width="1.725" height="28.38" fill="#3cb44a"/>
<rect x="372.650" y="490.34" width="1.725" height="43.86" fill="#3cb44a"/>
<rect x="374.775" y="441.32" width="1.725" height="92.88" fill="#3cb44a"/>
<rect x="376.900" y="511.24" width="1.725" height="22.96" fill="#3cb44a"/>
<rect x="379.025" y="512.53" width="1.725" height="21.67" fill="#3cb44a"/>
<rect x="381.150" y="486.21" width="1.725" height="47.99" fill="#3cb44a"/>
<rect x="383.275" y="514.08" width="1.725" height="20.12" fill="#3cb44a"/>
<rect x="385.400" y="511.75" width="1.725" height="22.45" fill="#3cb44a"/>
<rect x="387.525" y="467.38" width="1.725" height="66.82" fill="#3cb44a"/>
<rect x="389.650" y="492.40" width="1.725" height="41.80" fill="#3cb44a"/>
<rect x="391.775" y="499.63" width="1.725" height="34.57" fill="#3cb44a"/>
<rect x="393.900" y="531.62" width="1.725" height="2.58" fill="#52206a"/>
<rect x="396.025" y="528.52" width="1.725" height="5.68" fill="#52206a"/>
<rect x="398.150" y="526.46" width="1.725" height="7.74" fill="#52206a"/>
<rect x="400.275" y="526.46" width="1.725" height="7.74" fill="#52206a"/>
<rect x="402.400" y="527.23" width="1.725" height="6.97" fill="#52206a"/>
<rect x="404.525" y="515.37" width="1.725" height="18.83" fill="#52206a"/>
<rect x="406.650" y="531.62" width="1.725" height="2.58" fill="#52206a"/>
<rect x="408.775" y="524.40" width="1.725" height="9.80" fill="#52206a"/>
<rect x="410.900" y="529.30" width="1.725" height="4.90" fill="#52206a"/>
<rect x="413.025" y="525.43" width="1.725" height="8.77" fill="#52206a"/>
<rect x="415.150" y="525.43" width="1.725" height="8.77" fill="#52206a"/>
<rect x="417.275" y="526.46" width="1.725" height="7.74" fill="#52206a"/>
<rect x="419.400" y="529.30" width="1.725" height="4.90" fill="#52206a"/>
<rect x="421.525" y="527.49" width="1.725" height="6.71" fill="#52206a"/>
<rect x="423.650" y="529.30" width="1.725" height="4.90" fill="#52206a"/>
<rect x="425.775" y="528.78" width="1.725" height="5.42" fill="#52206a"/>
<rect x="427.900" y="482.08" width="1.725" height="52.12" fill="#ff9510"/>
<rect x="430.025" y="517.43" width="1.725" height="16.77" fill="#ff9510"/>
<rect x="432.150" y="507.88" width="1.725" height="26.32" fill="#ff9510"/>
<rect x="434.275" y="511.24" width="1.725" height="22.96" fill="#ff9510"/>
<rect x="436.400" y="504.27" width="1.725" height="29.93" fill="#ff9510"/>
<rect x="438.525" y="502.98" width="1.725" height="31.22" fill="#ff9510"/>
<rect x="440.650" y="506.08" width="1.725" height="28.12" fill="#ff9510"/>
<rect x="442.775" y="459.38" width="1.725" height="74.82" fill="#ff9510"/>
<rect x="444.900" y="515.11" width="1.725" height="19.09" fill="#ff9510"/>
<rect x="447.025" y="503.76" width="1.725" height="30.44" fill="#ff9510"/>
<rect x="449.150" y="506.34" width="1.725" height="27.86" fill="#ff9510"/>
<rect x="451.275" y="482.08" width="1.725" height="52.12" fill="#ff9510"/>
<rect x="453.400" y="512.01" width="1.725" height="22.19" fill="#ff9510"/>
<rect x="455.525" y="472.02" width="1.725" height="62.18" fill="#ff9510"/>
<rect x="457.650" y="503.76" width="1.725" height="30.44" fill="#ff9510"/>
<rect x="459.775" y="505.82" width="1.725" height="28.38" fill="#ff9510"/>
<rect x="461.900" y="522.59" width="1.725" height="11.61" fill="#03664a"/>
<rect x="464.025" y="527.23" width="1.725" height="6.97" fill="#03664a"/>
<rect x="466.150" y="527.75" width="1.725" height="6.45" fill="#03664a"/>
<rect x="468.275" y="529.30" width="1.725" height="4.90" fill="#03664a"/>
<rect x="470.400" y="532.65" width="1.725" height="1.55" fill="#03664a"/>
<rect x="472.525" y="529.30" width="1.725" height="4.90" fill="#03664a"/>
<rect x="474.650" y="524.91" width="1.725" height="9.29" fill="#03664a"/>
<rect x="476.775" y="527.23" width="1.725" height="6.97" fill="#03664a"/>
<rect x="478.900" y="525.17" width="1.725" height="9.03" fill="#03664a"/>
<rect x="481.025" y="521.30" width="1.725" height="12.90" fill="#03664a"/>
<rect x="483.150" y="523.36" width="1.725" height="10.84" fill="#03664a"/>
<rect x="485.275" y="521.30" width="1.725" height="12.90" fill="#03664a"/>
<rect x="487.400" y="523.36" width="1.725" height="10.84" fill="#03664a"/>
<rect x="489.525" y="516.40" width="1.725" height="17.80" fill="#03664a"/>
<rect x="491.650" y="526.46" width="1.725" height="7.74" fill="#03664a"/>
<rect x="493.775" y="503.24" width="1.725" height="30.96" fill="#03664a"/>
<line x1="291.4" y1="398.5" x2="291.4" y2="539.4000000000001" stroke="#111" stroke-width="1"/>
<line x1="290.9" y1="534.5" x2="496.6" y2="534.5" stroke="#111" stroke-width="1"/>
<line x1="288.0" y1="534.20" x2="291.4" y2="534.20" stroke="#000" stroke-width="1"/>
<text x="285.60" y="536.90" font-size="8.4" text-anchor="end" fill="#000" font-weight="normal" font-style="normal" textLength="11.1" lengthAdjust="spacingAndGlyphs" >0.0</text>
<line x1="288.0" y1="508.40" x2="291.4" y2="508.40" stroke="#000" stroke-width="1"/>
<text x="285.60" y="511.10" font-size="8.4" text-anchor="end" fill="#000" font-weight="normal" font-style="normal" textLength="11.1" lengthAdjust="spacingAndGlyphs" >0.1</text>
<line x1="288.0" y1="482.60" x2="291.4" y2="482.60" stroke="#000" stroke-width="1"/>
<text x="285.60" y="485.30" font-size="8.4" text-anchor="end" fill="#000" font-weight="normal" font-style="normal" textLength="11.1" lengthAdjust="spacingAndGlyphs" >0.2</text>
<line x1="288.0" y1="456.80" x2="291.4" y2="456.80" stroke="#000" stroke-width="1"/>
<text x="285.60" y="459.50" font-size="8.4" text-anchor="end" fill="#000" font-weight="normal" font-style="normal" textLength="11.1" lengthAdjust="spacingAndGlyphs" >0.3</text>
<line x1="288.0" y1="431.00" x2="291.4" y2="431.00" stroke="#000" stroke-width="1"/>
<text x="285.60" y="433.70" font-size="8.4" text-anchor="end" fill="#000" font-weight="normal" font-style="normal" textLength="11.1" lengthAdjust="spacingAndGlyphs" >0.4</text>
<line x1="288.0" y1="405.20" x2="291.4" y2="405.20" stroke="#000" stroke-width="1"/>
<text x="285.60" y="407.90" font-size="8.4" text-anchor="end" fill="#000" font-weight="normal" font-style="normal" textLength="11.1" lengthAdjust="spacingAndGlyphs" >0.5</text>
<g transform="translate(268.4,466.3) rotate(-90)"><text x="0" y="0" font-size="8.4" text-anchor="middle" fill="#000" stroke="#000" stroke-width="0.18" textLength="65.8" lengthAdjust="spacingAndGlyphs">Mutation rate (per MB)</text></g>
<rect x="291.20" y="539.50" width="34.50" height="16.1" fill="#c8102e"/>
<text x="308.35" y="550.70" font-size="10.2" text-anchor="middle" fill="#fff" font-weight="normal" font-style="normal" textLength="24.8" lengthAdjust="spacingAndGlyphs" >C &gt; A</text>
<rect x="325.50" y="539.50" width="34.50" height="16.1" fill="#0f4f8c"/>
<text x="342.65" y="550.70" font-size="10.2" text-anchor="middle" fill="#fff" font-weight="normal" font-style="normal" textLength="24.8" lengthAdjust="spacingAndGlyphs" >C &gt; G</text>
<rect x="359.80" y="539.50" width="34.50" height="16.1" fill="#3cb44a"/>
<text x="376.95" y="550.70" font-size="10.2" text-anchor="middle" fill="#fff" font-weight="normal" font-style="normal" textLength="24.8" lengthAdjust="spacingAndGlyphs" >C &gt; T</text>
<rect x="394.10" y="539.50" width="34.50" height="16.1" fill="#5e2770"/>
<text x="411.25" y="550.70" font-size="10.2" text-anchor="middle" fill="#fff" font-weight="normal" font-style="normal" textLength="24.8" lengthAdjust="spacingAndGlyphs" >T &gt; A</text>
<rect x="428.40" y="539.50" width="34.50" height="16.1" fill="#ff9510"/>
<text x="445.55" y="550.70" font-size="10.2" text-anchor="middle" fill="#fff" font-weight="normal" font-style="normal" textLength="24.8" lengthAdjust="spacingAndGlyphs" >T &gt; C</text>
<rect x="462.70" y="539.50" width="34.50" height="16.1" fill="#056a4e"/>
<text x="479.85" y="550.70" font-size="10.2" text-anchor="middle" fill="#fff" font-weight="normal" font-style="normal" textLength="24.8" lengthAdjust="spacingAndGlyphs" >T &gt; G</text>
<text x="394.0" y="567.9" font-size="8.2" text-anchor="middle" fill="#000" font-weight="normal" font-style="normal" textLength="58.9" lengthAdjust="spacingAndGlyphs" >Trinucleotide context</text>
<text x="306.9" y="393.70" font-size="8.4" fill="#111" textLength="174.0" lengthAdjust="spacingAndGlyphs"><tspan font-style="italic">E6R1</tspan><tspan font-size="7" dy="-2.6">+</tspan><tspan dy="2.6"> </tspan><tspan font-style="italic">Cdkn2a</tspan><tspan font-size="7" dy="-2.6">&#8722;/&#8722;</tspan><tspan dy="2.6"> </tspan><tspan font-style="italic">Il10</tspan><tspan font-size="7" dy="-2.6">&#8722;/&#8722;</tspan><tspan dy="2.6"> mutation spectrum</tspan></text>
<rect x="11.25" y="422" width="61.25" height="19.25" fill="#c4d4e0"/>
<rect x="101.2" y="385.3" width="80.30" height="18.20" fill="#c4d4e0"/>
<rect x="101.2" y="422" width="80.30" height="19.20" fill="#c4d4e0"/>
<rect x="101.25" y="460" width="80.00" height="18.75" fill="#c4d4e0"/>
<rect x="86.25" y="497" width="110.75" height="32.50" fill="#c4d4e0"/>
<rect x="86.25" y="548.25" width="110.75" height="18.75" fill="#c4d4e0"/>
<text x="41.9" y="434.1" font-size="9" text-anchor="middle" fill="#000" font-weight="normal" font-style="normal" stroke="#000" stroke-width="0.18">Antibiotics</text>
<text x="141.3" y="397.7" font-size="9" text-anchor="middle" fill="#000" font-weight="normal" font-style="normal" stroke="#000" stroke-width="0.18">IL-10 deficiency</text>
<text x="141.3" y="434.9" font-size="9" text-anchor="middle" fill="#c8102e" font-weight="normal" font-style="normal" stroke="#c8102e" stroke-width="0.15">Microbial dysbiosis</text>
<text x="141.6" y="472.8" font-size="9.2" text-anchor="middle" fill="#000" font-weight="normal" font-style="normal" textLength="49.3" lengthAdjust="spacingAndGlyphs" stroke="#000" stroke-width="0.18">Inflammation</text>
<text x="141.9" y="511.3" font-size="9.2" text-anchor="middle" fill="#000" font-weight="normal" font-style="normal" textLength="81.2" lengthAdjust="spacingAndGlyphs" stroke="#000" stroke-width="0.18">B cell deficiency and</text>
<text x="141.6" y="521.8" font-size="9.2" text-anchor="middle" fill="#000" font-weight="normal" font-style="normal" textLength="53" lengthAdjust="spacingAndGlyphs" stroke="#000" stroke-width="0.18">DNA damage</text>
<text x="141.6" y="560.4" font-size="9.2" text-anchor="middle" fill="#000" font-weight="normal" font-style="normal" textLength="100.8" lengthAdjust="spacingAndGlyphs" stroke="#000" stroke-width="0.18">B cell leukemia/lymphoma</text>
<line x1="141.2" y1="403.5" x2="141.2" y2="417.0" stroke="#000" stroke-width="1.25"/>
<path d="M 137.89999999999998 415.8 L 144.5 415.8 L 141.2 421.0 Z" fill="#000"/>
<line x1="141.2" y1="441.2" x2="141.2" y2="454.8" stroke="#000" stroke-width="1.25"/>
<path d="M 137.89999999999998 453.6 L 144.5 453.6 L 141.2 458.8 Z" fill="#000"/>
<line x1="141.2" y1="478.75" x2="141.2" y2="492.2" stroke="#000" stroke-width="1.25"/>
<path d="M 137.89999999999998 491.0 L 144.5 491.0 L 141.2 496.2 Z" fill="#000"/>
<line x1="141.2" y1="529.5" x2="141.2" y2="543.2" stroke="#000" stroke-width="1.25"/>
<path d="M 137.89999999999998 542.0 L 144.5 542.0 L 141.2 547.2 Z" fill="#000"/>
<line x1="75.7" y1="431.6" x2="96.3" y2="431.6" stroke="#000" stroke-width="1.15"/>
<line x1="96.4" y1="425.7" x2="96.4" y2="437.7" stroke="#000" stroke-width="1.3"/>
<rect x="0.5" y="0.5" width="519" height="575" fill="none" stroke="#000" stroke-width="1.2"/>
</svg></body></html>
